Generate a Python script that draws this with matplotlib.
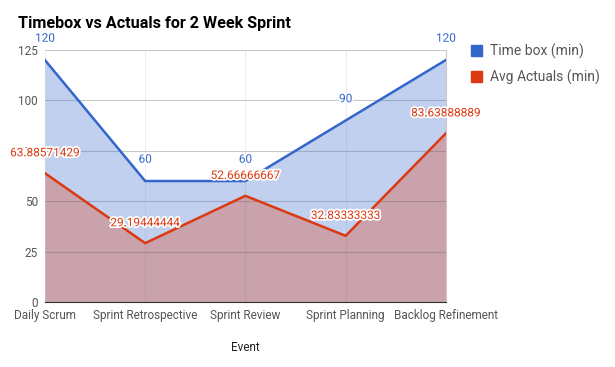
import matplotlib.pyplot as plt
import matplotlib.patheffects as pe

plt.rcParams['font.family'] = ['Roboto', 'DejaVu Sans']

events = ['Daily Scrum', 'Sprint Retrospective', 'Sprint Review',
          'Sprint Planning', 'Backlog Refinement']
timebox = [120, 60, 60, 90, 120]
actuals = [63.88571429, 29.19444444, 52.66666667, 32.83333333, 83.63888889]
timebox_labels = ['120', '60', '60', '90', '120']
actual_labels = ['63.88571429', '29.19444444', '52.66666667', '32.83333333', '83.63888889']

blue = '#3366cc'
red = '#dc3912'

fig = plt.figure(figsize=(6.15, 3.67), dpi=100)
ax = fig.add_axes([0.073, 0.177, 0.652, 0.687])

x = list(range(len(events)))
ax.fill_between(x, 0, timebox, color=blue, alpha=0.3, linewidth=0, zorder=2)
ax.fill_between(x, 0, actuals, color=red, alpha=0.3, linewidth=0, zorder=2)
ax.plot(x, timebox, color=blue, linewidth=1.8, label='Time box (min)', zorder=4)
ax.plot(x, actuals, color=red, linewidth=1.8, label='Avg Actuals (min)', zorder=4)

outline = [pe.withStroke(linewidth=2.5, foreground='white')]
for xi, v, s in zip(x, timebox, timebox_labels):
    ax.annotate(s, (xi, v), xytext=(0, 11), textcoords='offset points',
                ha='center', va='bottom', fontsize=8.5, color=blue,
                path_effects=outline, clip_on=False, zorder=6)
for xi, v, s in zip(x, actuals, actual_labels):
    ax.annotate(s, (xi, v), xytext=(0, 10), textcoords='offset points',
                ha='center', va='bottom', fontsize=8.5, color=red,
                path_effects=outline, clip_on=False, zorder=6)

ax.set_xlim(0, 4)
ax.set_ylim(0, 125)
ax.set_yticks([0, 25, 50, 75, 100, 125])
ax.set_xticks(x)
ax.set_xticklabels(events)
ax.tick_params(length=0, labelsize=8.5, colors='#555555', pad=5)
ax.grid(True, axis='y', color='#bbbbbb', linewidth=0.8, alpha=0.8, zorder=3)
ax.grid(True, axis='x', color='#aaaaaa', linewidth=0.6, alpha=0.25, zorder=3)
for side in ['top', 'left']:
    ax.spines[side].set_visible(False)
ax.spines['right'].set_color('#d6c4c8')
ax.spines['bottom'].set_color('#333333')
ax.spines['bottom'].set_zorder(5)

ax.set_xlabel('Event', fontsize=8.5, color='#222222', labelpad=14)
fig.text(0.029, 0.935, 'Timebox vs Actuals for 2 Week Sprint',
         fontsize=11.6, fontweight='bold', color='#000000', va='center')

leg = fig.legend(handles=[plt.Rectangle((0, 0), 1, 1, color=blue),
                          plt.Rectangle((0, 0), 1, 1, color=red)],
                 labels=['Time box (min)', 'Avg Actuals (min)'],
                 loc='upper left', bbox_to_anchor=(0.745, 0.915),
                 frameon=False, fontsize=10, handlelength=0.8, handleheight=0.8,
                 labelspacing=0.75, handletextpad=0.6, labelcolor='#555555')

fig.savefig('out.png', dpi=100)
